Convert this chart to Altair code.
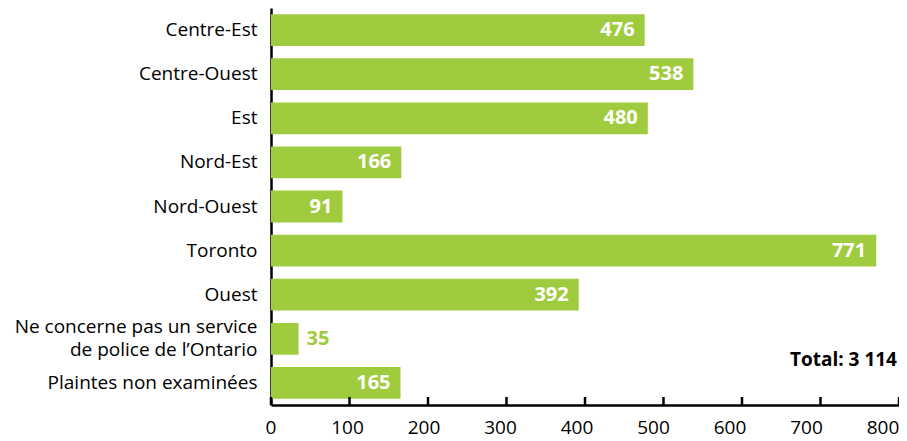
import altair as alt
import pandas as pd

categories = ["Centre-Est", "Centre-Ouest", "Est", "Nord-Est", "Nord-Ouest", "Toronto", "Ouest",
              "Ne concerne pas un service|de police de l’Ontario", "Plaintes non examinées"]
values = [476, 538, 480, 166, 91, 771, 392, 35, 165]
label_inside = [True, True, True, True, True, True, True, False, True]
tick_values = [0, 100, 200, 300, 400, 500, 600, 700, 800]
total_text = "Total: 3 114"

GREEN = "#9FCB3E"
FONT = "Open Sans"

df = pd.DataFrame({"cat": categories, "val": values, "inside": label_inside})
ticks_df = pd.DataFrame({"t": tick_values})

xscale = alt.Scale(domain=[0, 800], nice=False, zero=True)
yenc = alt.Y("cat:N", sort=None, title=None,
             scale=alt.Scale(paddingInner=0.28, paddingOuter=0.14),
             axis=alt.Axis(labelExpr="split(datum.label, '|')", labelFontSize=19, labelFont=FONT,
                           labelColor="#000000", labelPadding=14, ticks=False,
                           domainColor="#000000", domainWidth=2.5, labelLimit=400,
                           labelLineHeight=23,
                           labelOffset={"condition": {"test": "indexof(datum.label, '|') >= 0", "value": -11.5},
                                        "value": 0}))

bars = alt.Chart(df).mark_bar(color=GREEN).encode(
    x=alt.X("val:Q", scale=xscale, title=None,
            axis=alt.Axis(values=tick_values, ticks=False, labels=False, grid=False,
                          domainColor="#000000", domainWidth=2.5)),
    y=yenc,
)

inside = alt.Chart(df).transform_filter("datum.inside").mark_text(
    align="right", dx=-10, color="white", fontWeight="bold", fontSize=20, font=FONT
).encode(x=alt.X("val:Q", scale=xscale), y=alt.Y("cat:N", sort=None), text="val:Q")

outside = alt.Chart(df).transform_filter("!datum.inside").mark_text(
    align="left", dx=8, color=GREEN, fontWeight="bold", fontSize=20, font=FONT
).encode(x=alt.X("val:Q", scale=xscale), y=alt.Y("cat:N", sort=None), text="val:Q")

tickmarks = alt.Chart(ticks_df).mark_rule(color="#000000", strokeWidth=2.5).encode(
    x=alt.X("t:Q", scale=xscale), y=alt.value(389), y2=alt.value(397)
)

ticklabels = alt.Chart(ticks_df).transform_calculate(
    pos="datum.t * (1 - 16 / 628)"
).mark_text(
    align="center", baseline="middle", fontSize=19, font=FONT, color="#000000"
).encode(x=alt.X("pos:Q", scale=xscale), y=alt.value(420), text="t:Q")

total = alt.Chart(pd.DataFrame({"t": [total_text]})).mark_text(
    align="right", baseline="middle", fontWeight="bold", fontSize=19, font=FONT, color="#000000"
).encode(text="t:N", x=alt.value(626), y=alt.value(352))

chart = alt.layer(bars, inside, outside, tickmarks, ticklabels, total).properties(
    width=628, height=397,
    background="white",
    autosize=alt.AutoSizeParams(type="none"),
    padding={"left": 263, "top": 0, "right": 0, "bottom": 36},
).configure_view(stroke=None)

chart.save("out.html", embed_options={"renderer": "svg", "actions": False})
